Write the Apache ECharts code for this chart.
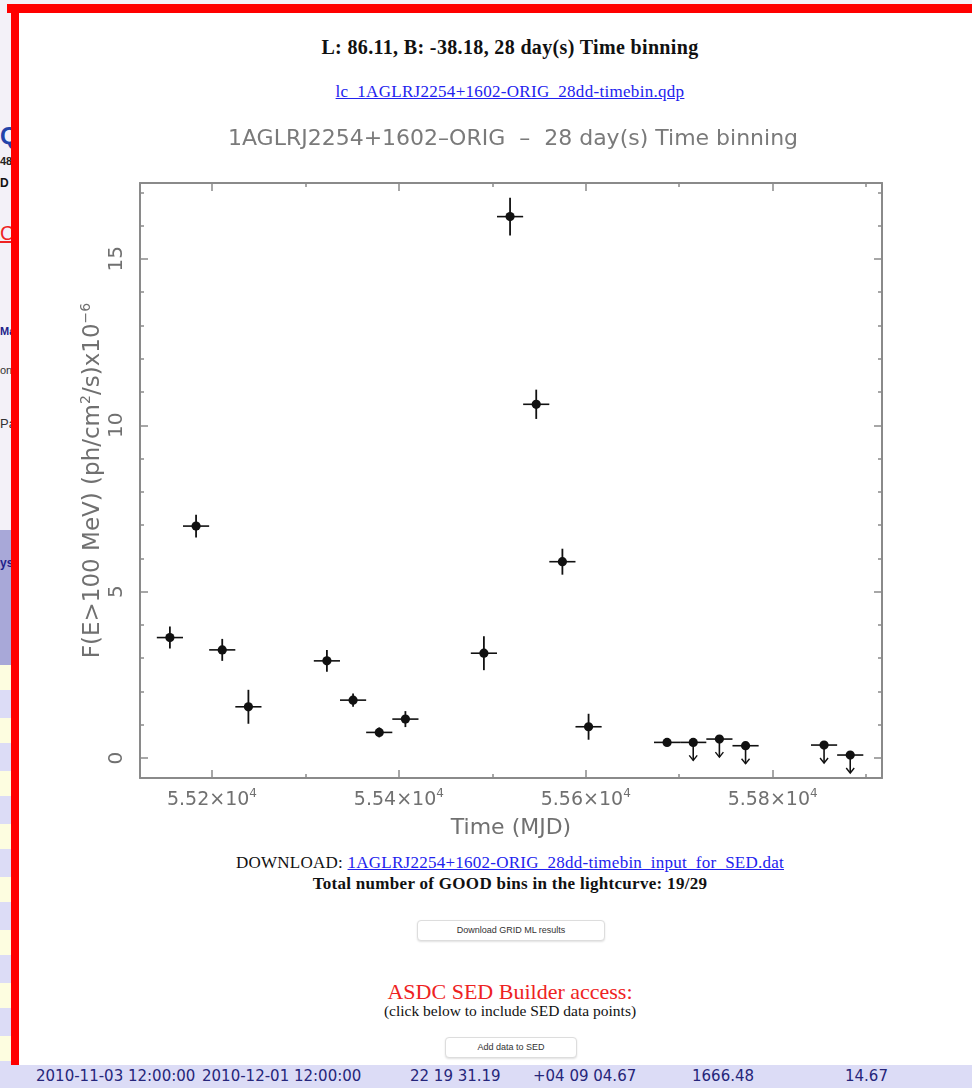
<!DOCTYPE html>
<html>
<head>
<meta charset="utf-8">
<script src="https://cdn.jsdelivr.net/npm/echarts@6/dist/echarts.min.js"></script>
<style>
  body { margin: 0; width: 972px; height: 1088px; overflow: hidden; background: #f3f1f8; position: relative; font-family: "Liberation Serif", serif; }
  .abs { position: absolute; }
  .stripes { left: 0; top: 665px; width: 12px; height: 400px;
    background: repeating-linear-gradient(to bottom, #fdfde0 0, #fdfde0 25px, #dcdcf6 25px, #dcdcf6 53px); }
  .header-band { left: 0; top: 530px; width: 12px; height: 135px; background: #a8a8d8; }
  .redtop { left: 7px; top: 4px; width: 965px; height: 9px; background: #ff0000; }
  .redleft { left: 11px; top: 4px; width: 8px; height: 1068px; background: #ff0000; }
  .panel { left: 19px; top: 13px; width: 953px; height: 1052px; background: #fff; }
  .ctr { left: 19px; width: 982px; text-align: center; }
  a { color: #2222ee; text-decoration: underline; }
  .btn { background: #fff; border: 1px solid #ddd; border-radius: 4px; box-shadow: 0 1px 2px rgba(0,0,0,0.12);
    font-family: "Liberation Sans", sans-serif; font-size: 9px; color: #333; text-align: center; }
  .row { left: 0; top: 1065px; width: 972px; height: 23px; background: #dcdcf6; }
  .cell { top: 1067px; font-family: "DejaVu Sans", sans-serif; font-size: 15px; color: #26267a; }
  #chart { left: 0; top: 0; width: 972px; height: 1088px; }
</style>
</head>
<body>
<div class="abs header-band"></div>
<div class="abs stripes"></div>
<div class="abs" style="left:0;top:122px;font:bold 24px 'Liberation Sans',sans-serif;color:#2244aa;">Q</div>
<div class="abs" style="left:0;top:155px;font:bold 11px 'Liberation Sans',sans-serif;color:#222;">48</div>
<div class="abs" style="left:0;top:176px;font:bold 12px 'Liberation Sans',sans-serif;color:#111;">D</div>
<div class="abs" style="left:0;top:222px;font:20px 'Liberation Sans',sans-serif;color:#ee2222;text-decoration:underline;">C</div>
<div class="abs" style="left:0;top:325px;font:bold 11px 'Liberation Sans',sans-serif;color:#22228a;">Ma</div>
<div class="abs" style="left:0;top:364px;font:11px 'Liberation Sans',sans-serif;color:#333;">on</div>
<div class="abs" style="left:0;top:416px;font:13px 'Liberation Sans',sans-serif;color:#333;">Pa</div>
<div class="abs" style="left:0;top:556px;font:bold 12px 'Liberation Sans',sans-serif;color:#22228a;">ys</div>

<div class="abs redtop"></div>
<div class="abs redleft"></div>
<div class="abs panel"></div>

<div class="abs ctr" style="top:36px;font-weight:bold;font-size:20px;letter-spacing:0.35px;color:#111;">L: 86.11, B: -38.18, 28 day(s) Time binning</div>
<div class="abs ctr" style="top:82px;font-size:17px;letter-spacing:0.3px;"><a>lc_1AGLRJ2254+1602-ORIG_28dd-timebin.qdp</a></div>

<div class="abs ctr" style="top:853px;font-size:17px;letter-spacing:0.25px;color:#111;">DOWNLOAD: <a>1AGLRJ2254+1602-ORIG_28dd-timebin_input_for_SED.dat</a></div>
<div class="abs ctr" style="top:874px;font-weight:bold;font-size:17px;letter-spacing:0.3px;color:#111;">Total number of GOOD bins in the lightcurve: 19/29</div>
<div class="abs btn" style="left:417px;top:920px;width:186px;height:19px;line-height:19px;">Download GRID ML results</div>
<div class="abs ctr" style="top:979px;font-size:22px;color:#ee2222;">ASDC SED Builder access:</div>
<div class="abs ctr" style="top:1002px;font-size:15.5px;color:#111;">(click below to include SED data points)</div>
<div class="abs btn" style="left:445px;top:1037px;width:130px;height:19px;line-height:19px;">Add data to SED</div>

<div class="abs row"></div>
<div class="abs cell" style="left:36px;">2010-11-03 12:00:00</div>
<div class="abs cell" style="left:202px;">2010-12-01 12:00:00</div>
<div class="abs cell" style="left:410px;">22 19 31.19</div>
<div class="abs cell" style="left:533px;">+04 09 04.67</div>
<div class="abs cell" style="left:692px;">1666.48</div>
<div class="abs cell" style="left:845px;">14.67</div>

<div id="chart" class="abs"></div>

<script>
// 28-day bins, bin centres in MJD
var binMjd = [55155, 55183, 55211, 55239, 55323, 55351, 55379, 55407, 55491, 55519,
              55547, 55575, 55603, 55687, 55715, 55743, 55771, 55855, 55883];
var binHalfWidth = [14, 14, 14, 14, 14, 14, 14, 14, 14, 14,
                    14, 14, 14, 14, 14, 14, 14, 14, 14];
// flux F(E>100 MeV) in 1e-6 ph/cm2/s
var flux = [3.62, 6.97, 3.25, 1.54, 2.92, 1.74, 0.77, 1.17, 3.15, 16.27,
            10.63, 5.90, 0.94, 0.47, 0.47, 0.57, 0.37, 0.39, 0.09];
var fluxErr = [0.33, 0.34, 0.33, 0.51, 0.33, 0.20, 0.15, 0.24, 0.51, 0.57,
               0.44, 0.39, 0.39, 0.10, 0, 0, 0, 0, 0];
// 1 = upper limit
var upperLimit = [0, 0, 0, 0, 0, 0, 0, 0, 0, 0,
                  0, 0, 0, 0, 1, 1, 1, 1, 1];

var xRange = [55123, 55917];
var yRange = [-0.6, 17.28];

var points = binMjd.map(function (m, i) {
  return [m, flux[i], binHalfWidth[i], fluxErr[i], upperLimit[i]];
});

var ink = '#111';
var frame = '#8a8a8a';
var txt = '#707070';
var plotFont = '"DejaVu Sans", sans-serif';

function renderPoint(params, api) {
  var x = api.value(0), y = api.value(1), dx = api.value(2), dy = api.value(3), ul = api.value(4);
  var c = api.coord([x, y]);
  var l = api.coord([x - dx, y]);
  var r = api.coord([x + dx, y]);
  var kids = [{
    type: 'line',
    shape: { x1: l[0], y1: c[1], x2: r[0], y2: c[1] },
    style: { stroke: ink, lineWidth: 1.6 }
  }];
  if (ul) {
    var tip = c[1] + 18;
    kids.push({ type: 'line', shape: { x1: c[0], y1: c[1], x2: c[0], y2: tip }, style: { stroke: ink, lineWidth: 1.6 } });
    kids.push({ type: 'polyline', shape: { points: [[c[0] - 4, tip - 5], [c[0], tip], [c[0] + 4, tip - 5]] },
      style: { stroke: ink, lineWidth: 1.4, fill: null } });
  } else if (dy > 0) {
    var t = api.coord([x, y + dy]);
    var b = api.coord([x, y - dy]);
    kids.push({ type: 'line', shape: { x1: c[0], y1: t[1], x2: c[0], y2: b[1] }, style: { stroke: ink, lineWidth: 1.8 } });
  }
  kids.push({ type: 'circle', shape: { cx: c[0], cy: c[1], r: 4.6 }, style: { fill: ink } });
  return { type: 'group', children: kids };
}

var xAxisBase = {
  type: 'value', min: xRange[0], max: xRange[1], minInterval: 200, maxInterval: 200,
  axisLine: { show: true, onZero: false, lineStyle: { color: frame, width: 2 } },
  axisTick: { show: true, inside: true, length: 8, lineStyle: { color: frame, width: 1.5 } },
  minorTick: { show: true, splitNumber: 2, length: 4, lineStyle: { color: frame, width: 1.5 } },
  splitLine: { show: false }
};
var yAxisBase = {
  type: 'value', min: yRange[0], max: yRange[1], minInterval: 5, maxInterval: 5,
  axisLine: { show: true, onZero: false, lineStyle: { color: frame, width: 2 } },
  axisTick: { show: true, inside: true, length: 8, lineStyle: { color: frame, width: 1.5 } },
  minorTick: { show: true, splitNumber: 5, length: 4, lineStyle: { color: frame, width: 1.5 } },
  splitLine: { show: false }
};

var chart = echarts.init(document.getElementById('chart'), null, { renderer: 'canvas' });
chart.setOption({
  animation: false,
  backgroundColor: 'transparent',
  title: {
    text: '1AGLRJ2254+1602\u2013ORIG  \u2013  28 day(s) Time binning',
    left: 508, top: 123, textAlign: 'center',
    textStyle: { fontFamily: plotFont, fontSize: 22, fontWeight: 'normal', color: '#7a7a7a' }
  },
  grid: { left: 140, top: 183, width: 742, height: 595 },
  xAxis: [
    Object.assign({}, xAxisBase, {
      position: 'bottom',
      name: 'Time (MJD)', nameLocation: 'middle', nameGap: 39,
      nameTextStyle: { fontFamily: plotFont, fontSize: 22, color: txt },
      axisLabel: {
        show: true, margin: 10, showMinLabel: false, showMaxLabel: false,
        fontFamily: plotFont, fontSize: 19, color: txt,
        formatter: function (v) { return (v / 1e4).toFixed(2) + '\u00d710{sup|4}'; },
        rich: { sup: { fontFamily: plotFont, fontSize: 12, color: txt, verticalAlign: 'top', padding: [0, 0, 12, 0] } }
      }
    }),
    Object.assign({}, xAxisBase, { position: 'top', axisLabel: { show: false } })
  ],
  yAxis: [
    Object.assign({}, yAxisBase, {
      position: 'left',
      name: 'F(E>100 MeV) (ph/cm{sup|2}/s)x10{sup|\u22126}', nameLocation: 'middle', nameGap: 33, nameRotate: 90,
      nameMoveOverlap: false,
      nameTextStyle: {
        fontFamily: plotFont, fontSize: 23, color: txt,
        rich: { sup: { fontFamily: plotFont, fontSize: 14, color: txt, padding: [0, 0, 14, 0] } }
      },
      axisLabel: {
        show: true, rotate: 90, margin: 13, showMinLabel: false, showMaxLabel: false,
        fontFamily: plotFont, fontSize: 20, color: txt
      }
    }),
    Object.assign({}, yAxisBase, { position: 'right', axisLabel: { show: false } })
  ],
  series: [{
    type: 'custom',
    xAxisIndex: 0, yAxisIndex: 0,
    renderItem: renderPoint,
    data: points,
    clip: false
  }]
});
</script>
</body>
</html>
